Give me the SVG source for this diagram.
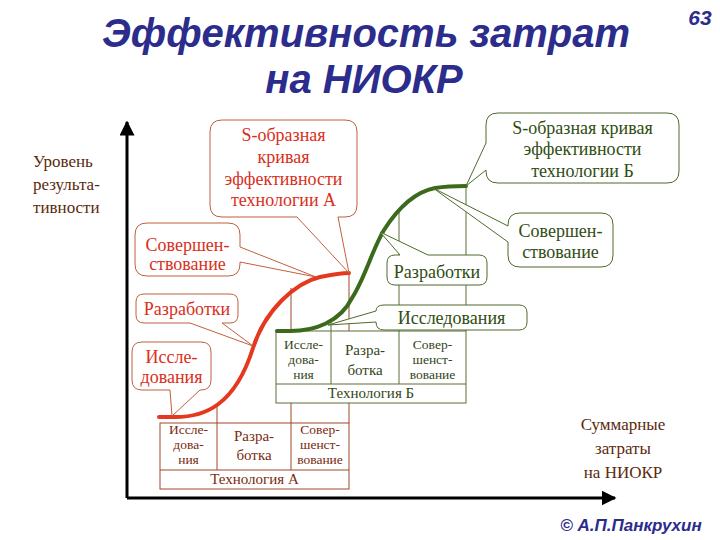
<svg xmlns="http://www.w3.org/2000/svg" width="720" height="540" viewBox="0 0 720 540">
<defs>
<style>
.title{font-family:"Liberation Sans",Arial,sans-serif;font-weight:bold;font-style:italic;fill:#2b2c8c}
.lbl{font-family:"Liberation Serif","Times New Roman",serif;font-size:17px;fill:#5a2a0e}
.ra{font-family:"Liberation Serif","Times New Roman",serif;font-size:18px;fill:#d8301c;text-anchor:middle}
.gb{font-family:"Liberation Serif","Times New Roman",serif;font-size:18px;fill:#2f4d12;text-anchor:middle}
.ta{font-family:"Liberation Serif","Times New Roman",serif;font-size:13.5px;fill:#7a2a10;text-anchor:middle}
.tb{font-family:"Liberation Serif","Times New Roman",serif;font-size:13.5px;fill:#33461a;text-anchor:middle}
.big{font-size:15px}
.coa{fill:#fff;stroke:#c0603c;stroke-width:1}
.cob{fill:#fff;stroke:#4e6b2c;stroke-width:1}
.gla{stroke:#a0482a;stroke-width:1;fill:none}
.glb{stroke:#5a6e36;stroke-width:1;fill:none}
</style>
<marker id="arr" viewBox="0 0 10 10" refX="9" refY="5" markerWidth="5" markerHeight="5" orient="auto-start-reverse" markerUnits="strokeWidth">
<path d="M0,0 L10,5 L0,10 Z" fill="#000"/>
</marker>
</defs>
<rect width="720" height="540" fill="#fff"/>

<g id="title">
<text class="title" x="366" y="47" font-size="40" text-anchor="middle">Эффективность затрат</text>
<text class="title" x="364" y="93" font-size="40" text-anchor="middle">на НИОКР</text>
<text class="title" x="700" y="25" font-size="21" text-anchor="middle">63</text>
</g>

<g id="axes">
<line x1="127" y1="498" x2="127" y2="122" stroke="#000" stroke-width="3" marker-end="url(#arr)"/>
<line x1="127" y1="498" x2="615" y2="498" stroke="#000" stroke-width="3" marker-end="url(#arr)"/>
</g>

<g id="axis-labels">
<text class="lbl" x="33" y="167">Уровень</text>
<text class="lbl" x="33" y="190">результа-</text>
<text class="lbl" x="33" y="213">тивности</text>
<text class="lbl" x="623" y="430" text-anchor="middle">Суммарные</text>
<text class="lbl" x="623" y="454" text-anchor="middle">затраты</text>
<text class="lbl" x="623" y="478" text-anchor="middle">на НИОКР</text>
</g>

<g id="guides-a">
<line class="gla" x1="217" y1="406" x2="217" y2="423"/>
<line class="gla" x1="291" y1="288" x2="291" y2="423"/>
<line class="gla" x1="349" y1="273" x2="349" y2="423"/>
</g>

<g id="table-a">
<rect x="160" y="423" width="189" height="66" fill="#fff" stroke="#a0482a" stroke-width="1"/>
<line class="gla" x1="160" y1="470" x2="349" y2="470"/>
<line class="gla" x1="217" y1="423" x2="217" y2="470"/>
<line class="gla" x1="291" y1="423" x2="291" y2="470"/>
<text class="ta" x="188.5" y="434">Иссле-</text>
<text class="ta" x="188.5" y="449">дова-</text>
<text class="ta" x="188.5" y="464">ния</text>
<text class="ta big" x="254" y="441">Разра-</text>
<text class="ta big" x="254" y="460">ботка</text>
<text class="ta" x="320" y="434">Совер-</text>
<text class="ta" x="320" y="449">шенст-</text>
<text class="ta" x="320" y="464">вование</text>
<text class="ta big" x="254.5" y="484">Технология А</text>
</g>

<g id="guides-b">
<line class="glb" x1="331" y1="321" x2="331" y2="331"/>
<line class="glb" x1="399" y1="210" x2="399" y2="331"/>
<line class="glb" x1="466" y1="186" x2="466" y2="331"/>
</g>

<g id="table-b">
<rect x="276" y="331" width="190" height="72" fill="#fff" stroke="#5a6e36" stroke-width="1"/>
<line class="glb" x1="276" y1="384" x2="466" y2="384"/>
<line class="glb" x1="331" y1="331" x2="331" y2="384"/>
<line class="glb" x1="399" y1="331" x2="399" y2="384"/>
<text class="tb" x="303.5" y="349">Иссле-</text>
<text class="tb" x="303.5" y="364">дова-</text>
<text class="tb" x="303.5" y="379">ния</text>
<text class="tb big" x="365" y="355">Разра-</text>
<text class="tb big" x="365" y="375">ботка</text>
<text class="tb" x="432.5" y="349">Совер-</text>
<text class="tb" x="432.5" y="364">шенст-</text>
<text class="tb" x="432.5" y="379">вование</text>
<text class="tb big" x="371" y="398">Технология Б</text>
</g>

<g id="curve-a">
<path d="M159,417 L172,417 C205,418 235,405 253,348 C265,310 295,283 320,277 C335,274 342,273 349,273" fill="none" stroke="#e5391f" stroke-width="4" stroke-linecap="round"/>
</g>

<g id="curve-b">
<path d="M277,331 L290,331 C315,331 340,322 352,298 C365,278 372,250 384,230 C398,208 415,192 435,188 C448,186 458,186 466,186" fill="none" stroke="#3b6a1c" stroke-width="4" stroke-linecap="round"/>
</g>

<g id="callout-a-s">
<path class="coa" d="M222,120 H345 Q357,120 357,132 V205 Q357,217 345,217 H338 L349,273 L297,217 H222 Q210,217 210,205 V132 Q210,120 222,120 Z"/>
<text class="ra" x="283.5" y="141">S-образная</text>
<text class="ra" x="283.5" y="163">кривая</text>
<text class="ra" x="283.5" y="185">эффективности</text>
<text class="ra" x="283.5" y="206">технологии А</text>
</g>

<g id="callout-a-perf">
<path class="coa" d="M147,223 H228 Q240,223 240,235 V247 L316,277 L240,262 V264 Q240,276 228,276 H147 Q135,276 135,264 V235 Q135,223 147,223 Z"/>
<text class="ra" x="187.5" y="251">Совершен-</text>
<text class="ra" x="187.5" y="270">ствование</text>
</g>

<g id="callout-a-dev">
<path class="coa" d="M144,294 H230 Q238,294 238,302 V315 Q238,323 230,323 H222 L253,346 L190,323 H144 Q136,323 136,315 V302 Q136,294 144,294 Z"/>
<text class="ra" x="187" y="315">Разработки</text>
</g>

<g id="callout-a-res">
<path class="coa" d="M142,342 H201 Q211,342 211,352 V380 Q211,390 201,390 H200 L172,416 L170,390 H142 Q132,390 132,380 V352 Q132,342 142,342 Z"/>
<text class="ra" x="171.5" y="363">Иссле-</text>
<text class="ra" x="171.5" y="383">дования</text>
</g>

<g id="callout-b-s">
<path class="cob" d="M498,113 H667 Q679,113 679,125 V171 Q679,183 667,183 H498 Q486,183 486,171 V170 L466,186 L486,143 V125 Q486,113 498,113 Z"/>
<text class="gb" x="582.5" y="134">S-образная кривая</text>
<text class="gb" x="582.5" y="155">эффективности</text>
<text class="gb" x="582.5" y="177">технологии Б</text>
</g>

<g id="callout-b-perf">
<path class="cob" d="M520,213 H601 Q613,213 613,225 V255 Q613,267 601,267 H520 Q508,267 508,255 V242 L433,188 L508,226 V225 Q508,213 520,213 Z"/>
<text class="gb" x="560.5" y="237">Совершен-</text>
<text class="gb" x="560.5" y="258">ствование</text>
</g>

<g id="callout-b-dev">
<path class="cob" d="M395,255 H400 L380,232 L428,255 H479 Q487,255 487,263 V277 Q487,285 479,285 H395 Q387,285 387,277 V263 Q387,255 395,255 Z"/>
<text class="gb" x="437" y="278">Разработки</text>
</g>

<g id="callout-b-res">
<path class="cob" d="M384,305 H519 Q527,305 527,313 V322 Q527,330 519,330 H384 Q376,330 376,322 L328,325 L376,311 Q376,305 384,305 Z"/>
<text class="gb" x="451.5" y="324">Исследования</text>
</g>

<g id="copyright">
<text class="title" x="631" y="531" font-size="17" text-anchor="middle">© А.П.Панкрухин</text>
</g>
</svg>
